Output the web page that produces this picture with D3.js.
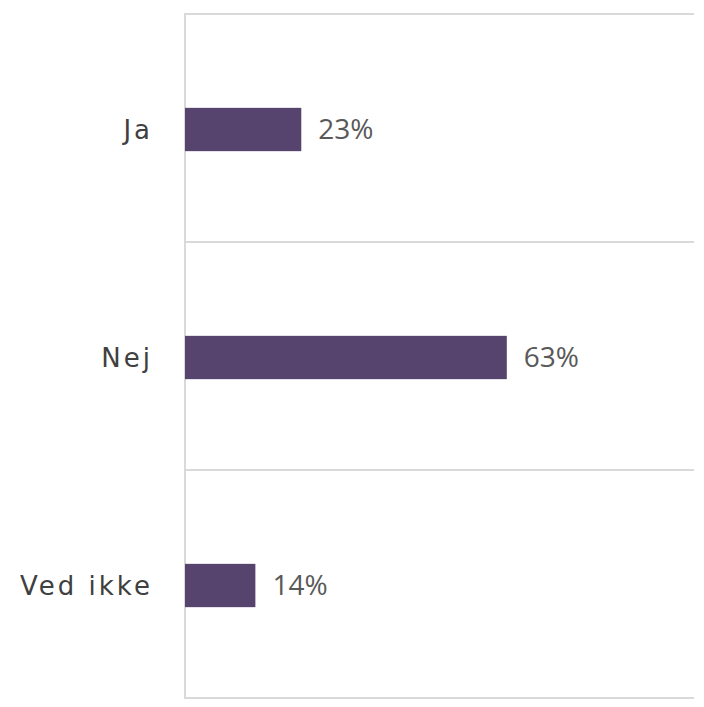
<!DOCTYPE html>
<html>
<head>
<meta charset="utf-8">
<script src="https://cdn.jsdelivr.net/npm/d3@7"></script>
<style>
  body { margin: 0; background: #fff; }
  svg { display: block; }
</style>
</head>
<body>
<svg id="chart" width="704" height="707"></svg>
<script>
// answers and shares
const categories = ["Ja", "Nej", "Ved ikke"];
const shares = [0.228, 0.631, 0.138];
const valueLabels = ["23%", "63%", "14%"];

const svg = d3.select("#chart");
const g_left = 185, g_right = 695, g_top = 14, g_bottom = 698;

const x = d3.scaleLinear().domain([0, 1]).range([g_left, g_right]);
const y = d3.scaleBand().domain(categories).range([g_top, g_bottom]).paddingInner(0.81).paddingOuter(0.405);
const yBand = d3.scaleBand().domain(categories).range([g_top, g_bottom]);
const shift = 1.5; // bars sit a little below band centre

// gridlines between categories
const bounds = categories.map(c => yBand(c)).concat([g_bottom]);
svg.selectAll(".grid").data(bounds).join("line").classed("grid", true)
    .attr("x1", g_left).attr("x2", 694)
    .attr("y1", d => d).attr("y2", d => d)
    .attr("style", "stroke:#d9d9d9; stroke-width:2");

// vertical axis
svg.append("line")
    .attr("x1", g_left).attr("x2", g_left).attr("y1", g_top - 1).attr("y2", g_bottom + 1)
    .attr("style", "stroke:#d9d9d9; stroke-width:2");

// bars
const data = categories.map((c, i) => ({ c: c, v: shares[i], lab: valueLabels[i] }));
svg.selectAll(".bar").data(data).join("rect").classed("bar", true)
    .attr("x", g_left).attr("y", d => y(d.c) + shift)
    .attr("width", d => x(d.v) - g_left).attr("height", y.bandwidth())
    .attr("fill", "#56446f");

// value labels
svg.selectAll(".val").data(data).join("text").classed("val", true)
    .attr("x", d => x(d.v) + 17)
    .attr("y", d => y(d.c) + y.bandwidth() / 2 + shift + 9)
    .attr("style", "font-family:'Open Sans'; font-size:28px; fill:#595959")
    .text(d => d.lab);

// category labels
svg.selectAll(".cat").data(data).join("text").classed("cat", true)
    .attr("x", 153).attr("text-anchor", "end")
    .attr("y", d => y(d.c) + y.bandwidth() / 2 + shift + 9)
    .attr("style", "font-family:'DejaVu Sans'; font-size:26px; letter-spacing:3px; fill:#404040")
    .text(d => d.c);
</script>
</body>
</html>
